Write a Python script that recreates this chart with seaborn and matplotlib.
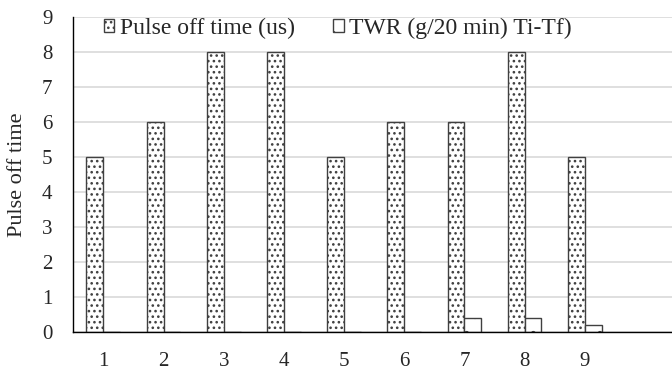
import matplotlib
matplotlib.use("Agg")
import matplotlib.pyplot as plt
import seaborn as sns
import pandas as pd

runs = ["1", "2", "3", "4", "5", "6", "7", "8", "9"]
pulse_off = [5, 6, 8, 8, 5, 6, 6, 8, 5]
twr = [0, 0, 0, 0, 0, 0, 0.4, 0.4, 0.2]
series_names = ["Pulse off time (us)", "TWR (g/20 min) Ti-Tf)"]

df = pd.DataFrame({
    "run": runs * 2,
    "value": pulse_off + twr,
    "series": [series_names[0]] * len(runs) + [series_names[1]] * len(runs),
})

sns.set_style("white")
plt.rcParams["font.family"] = ["Liberation Serif", "DejaVu Serif"]
plt.rcParams["hatch.linewidth"] = 1.1
plt.rcParams["hatch.color"] = "black"

fig = plt.figure(figsize=(6.72, 3.74), dpi=100)
ax = fig.add_axes([0.109, 0.112, 0.891, 0.842])

sns.barplot(data=df, x="run", y="value", hue="series", order=runs,
            hue_order=series_names, width=0.56,
            palette=["white", "white"], edgecolor="#404040", linewidth=1.0,
            ax=ax, legend=True)

hatches = ["...", "."]
for cont, h in zip(ax.containers, hatches):
    for bar in cont:
        bar.set_hatch(h)
        bar.set_edgecolor("#404040")

ax.set_xlim(-0.5, 9.45)
ax.set_ylim(0, 9)
ax.set_yticks(range(0, 10))
ax.yaxis.grid(True, color="#d9d9d9", linewidth=1.2)
ax.set_axisbelow(True)
for side in ["top", "right"]:
    ax.spines[side].set_visible(False)
for side in ["left", "bottom"]:
    ax.spines[side].set_color("black")
    ax.spines[side].set_linewidth(1.0)
ax.tick_params(axis="y", labelsize=15, length=0, pad=15)
ax.tick_params(axis="x", labelsize=15, length=0, pad=14)
ax.set_xlabel("")
ax.set_ylabel("Pulse off time", fontsize=16, labelpad=11)

leg = ax.legend(loc="upper left", bbox_to_anchor=(0.035, 1.028), ncol=2,
                frameon=False, fontsize=17, handlelength=0.45, handleheight=0.45,
                handletextpad=0.25, columnspacing=1.6, borderaxespad=0)
for h, hp in zip(leg.legend_handles, hatches):
    h.set_hatch(hp)
    h.set_edgecolor("#404040")

fig.savefig("out.png", dpi=100)
